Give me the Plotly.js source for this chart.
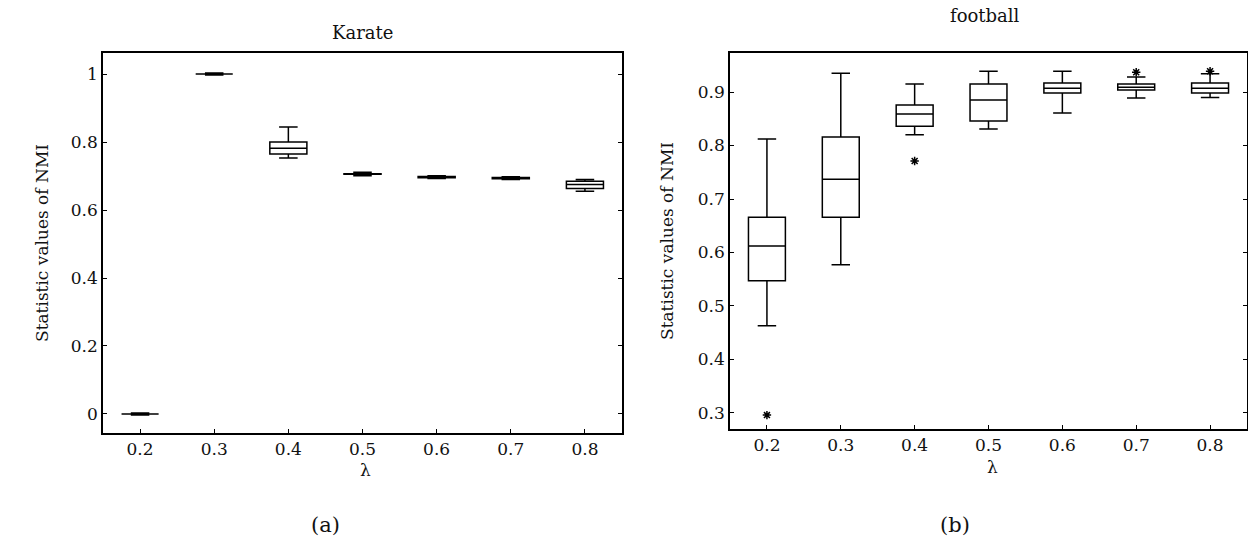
<!DOCTYPE html>
<html>
<head>
<meta charset="utf-8">
<script src="https://cdn.plot.ly/plotly-3.0.1.min.js"></script>
<style>html,body{margin:0;padding:0;background:#fff;}#chart{width:1248px;height:549px;}</style>
</head>
<body>
<div id="chart"></div>
<script>
// Categories (lambda)
const lambdas = ["0.2", "0.3", "0.4", "0.5", "0.6", "0.7", "0.8"];

// Karate NMI box statistics
const karateLow    = [-0.003, 0.997, 0.753, 0.701, 0.693, 0.690, 0.655];
const karateQ1     = [0.000, 1.000, 0.765, 0.705, 0.695, 0.692, 0.663];
const karateMedian = [0.000, 1.000, 0.782, 0.706, 0.697, 0.694, 0.675];
const karateQ3     = [0.000, 1.000, 0.800, 0.707, 0.699, 0.696, 0.685];
const karateHigh   = [0.003, 1.003, 0.844, 0.711, 0.701, 0.698, 0.690];

// football NMI box statistics
const footLow    = [0.463, 0.577, 0.820, 0.831, 0.861, 0.889, 0.890];
const footQ1     = [0.547, 0.666, 0.836, 0.846, 0.898, 0.904, 0.898];
const footMedian = [0.612, 0.737, 0.859, 0.885, 0.907, 0.909, 0.907];
const footQ3     = [0.666, 0.816, 0.876, 0.915, 0.917, 0.915, 0.917];
const footHigh   = [0.812, 0.935, 0.915, 0.939, 0.939, 0.928, 0.934];

// football outliers
const footOutX = ["0.2", "0.4", "0.7", "0.8"];
const footOutY = [0.296, 0.771, 0.937, 0.939];

// tick labels
const karateTicks = [0, 0.2, 0.4, 0.6, 0.8, 1];
const footTicks = [0.3, 0.4, 0.5, 0.6, 0.7, 0.8, 0.9];

const FONT = "DejaVu Serif, Liberation Serif, serif";

function boxTrace(q1, med, q3, lo, hi, xa, ya) {
  return {
    type: "box", x: lambdas, q1: q1, median: med, q3: q3,
    lowerfence: lo, upperfence: hi,
    xaxis: xa, yaxis: ya, boxpoints: false,
    width: 0.5, whiskerwidth: 0.5,
    line: {color: "#000", width: 1.5}, fillcolor: "rgba(255,255,255,0)",
    showlegend: false, hoverinfo: "skip"
  };
}

const data = [
  boxTrace(karateQ1, karateMedian, karateQ3, karateLow, karateHigh, "x", "y"),
  boxTrace(footQ1, footMedian, footQ3, footLow, footHigh, "x2", "y2"),
  {type: "scatter", mode: "markers", x: footOutX, y: footOutY, xaxis: "x2", yaxis: "y2",
   marker: {symbol: "asterisk-open", size: 7, color: "#000", line: {color: "#000", width: 1.5}},
   showlegend: false, hoverinfo: "skip"}
];

const axCommon = {
  showgrid: false, zeroline: false, showline: true, linecolor: "#000", linewidth: 1.8,
  ticks: "inside", ticklen: 4, tickcolor: "#000", tickwidth: 1,
  tickfont: {family: FONT, size: 17, color: "#111"}
};

const layout = {
  width: 1248, height: 549,
  margin: {l: 0, r: 0, t: 0, b: 0},
  paper_bgcolor: "#fff", plot_bgcolor: "#fff",
  font: {family: FONT, color: "#111"},
  xaxis: Object.assign({}, axCommon, {domain: [103/1248, 622/1248], anchor: "y", type: "category",
    categoryorder: "array", categoryarray: lambdas, range: [-0.5, 6.5], mirror: true}),
  yaxis: Object.assign({}, axCommon, {domain: [1 - 433/549, 1 - 53/549], anchor: "x",
    range: [-0.056, 1.062], tickvals: karateTicks, mirror: "ticks"}),
  xaxis2: Object.assign({}, axCommon, {domain: [730/1248, 1247/1248], anchor: "y2", type: "category",
    categoryorder: "array", categoryarray: lambdas, range: [-0.5, 6.5], mirror: true}),
  yaxis2: Object.assign({}, axCommon, {domain: [1 - 429/549, 1 - 53/549], anchor: "x2",
    range: [0.27, 0.973], tickvals: footTicks, mirror: "ticks"}),
  annotations: [
    {text: "Karate", xref: "paper", yref: "paper", x: 362/1248, y: 1 - 33/549, xanchor: "center", yanchor: "middle",
     showarrow: false, font: {family: FONT, size: 18}},
    {text: "football", xref: "paper", yref: "paper", x: 985/1248, y: 1 - 16/549, xanchor: "center", yanchor: "middle",
     showarrow: false, font: {family: FONT, size: 18}},
    {text: "Statistic values of NMI", xref: "paper", yref: "paper", x: 42/1248, y: 1 - 243/549, textangle: -90,
     xanchor: "center", yanchor: "middle", showarrow: false, font: {family: FONT, size: 17}},
    {text: "Statistic values of NMI", xref: "paper", yref: "paper", x: 667/1248, y: 1 - 241/549, textangle: -90,
     xanchor: "center", yanchor: "middle", showarrow: false, font: {family: FONT, size: 17}},
    {text: "λ", xref: "paper", yref: "paper", x: 365/1248, y: 1 - 470/549, xanchor: "center", yanchor: "middle",
     showarrow: false, font: {family: FONT, size: 17}},
    {text: "λ", xref: "paper", yref: "paper", x: 993/1248, y: 1 - 467/549, xanchor: "center", yanchor: "middle",
     showarrow: false, font: {family: FONT, size: 17}},
    {text: "(a)", xref: "paper", yref: "paper", x: 325/1248, y: 1 - 525/549, xanchor: "center", yanchor: "middle",
     showarrow: false, font: {family: FONT, size: 21}},
    {text: "(b)", xref: "paper", yref: "paper", x: 955/1248, y: 1 - 525/549, xanchor: "center", yanchor: "middle",
     showarrow: false, font: {family: FONT, size: 21}}
  ]
};

Plotly.newPlot("chart", data, layout, {staticPlot: true, displayModeBar: false});
</script>
</body>
</html>
